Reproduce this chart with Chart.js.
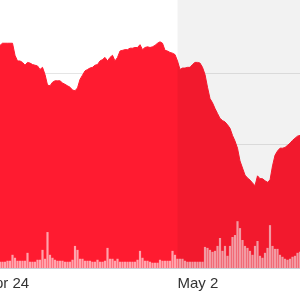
<!DOCTYPE html>
<html>
<head>
<meta charset="utf-8">
<script src="https://cdn.jsdelivr.net/npm/chart.js@4/dist/chart.umd.min.js"></script>
<style>
  html, body { margin: 0; padding: 0; background: #fff; }
  #frame { position: relative; width: 300px; height: 300px; overflow: hidden; }
  #wrap { position: absolute; left: -20px; top: 0; width: 320px; height: 300px; }
</style>
</head>
<body>
<div id="frame"><div id="wrap"><canvas id="chart" width="320" height="300"></canvas></div></div>
<script>
// Price (close) per period
const prices = [
    123.8, 123.7, 123.8, 123.7, 123.8, 123.8, 124.0, 123.8, 124.0, 124.3,
    124.3, 124.3, 124.3, 124.3, 122.6, 121.8, 121.8, 121.6, 121.2, 121.6,
    121.5, 121.3, 121.2, 121.1, 120.6, 120.9, 119.9, 118.4, 118.3, 118.8,
    119.0, 119.0, 119.0, 118.7, 118.5, 118.3, 118.1, 117.7, 117.6, 118.0,
    119.2, 119.8, 120.4, 120.6, 120.8, 120.9, 121.2, 121.3, 121.8, 122.0,
    122.3, 121.8, 122.3, 122.6, 121.8, 122.3, 123.2, 123.3, 123.4, 123.4,
    123.6, 123.6, 123.7, 123.7, 124.1, 123.4, 123.7, 123.8, 123.7, 123.8,
    124.0, 124.3, 124.5, 124.3, 123.3, 123.2, 123.0, 122.9, 122.7, 121.8,
    120.6, 120.8, 120.8, 120.9, 120.9, 121.3, 121.6, 121.6, 121.5, 120.9,
    119.9, 118.1, 116.5, 115.9, 115.1, 114.4, 113.7, 113.4, 113.2, 112.8,
    112.3, 111.3, 110.5, 109.5, 107.7, 106.7, 105.7, 105.3, 105.0, 104.6,
    104.2, 105.6, 105.2, 105.2, 104.9, 104.7, 105.0, 107.0, 108.5, 109.1,
    109.5, 109.5, 109.6, 109.9, 110.2, 110.6, 110.9, 111.2, 111.3
];

// Volume per period
const volumes = [
    6, 7, 6, 6, 7, 6, 8, 6, 6, 6,
    6, 7, 7, 13, 10, 7, 7, 7, 7, 15,
    6, 6, 6, 8, 8, 18, 9, 36, 13, 10,
    8, 7, 7, 7, 6, 6, 6, 8, 22, 18,
    9, 9, 7, 7, 7, 6, 6, 8, 6, 6,
    7, 20, 9, 9, 7, 9, 6, 6, 6, 6,
    6, 6, 6, 8, 17, 10, 7, 7, 6, 5,
    5, 5, 8, 7, 7, 7, 7, 17, 13, 9,
    9, 9, 7, 6, 6, 6, 6, 6, 6, 6,
    21, 20, 18, 16, 17, 22, 30, 17, 22, 12,
    22, 31, 33, 47, 40, 28, 22, 20, 17, 13,
    22, 27, 12, 10, 15, 20, 43, 22, 19, 19,
    13, 11, 9, 8, 9, 11, 12, 15, 16
];

// Date ticks (index into the series)
const tickLabels = ['Apr 24', 'May 2'];
const tickIndex = [2, 79];
const shadeFrom = 79;

const labels = prices.map((_, i) => i);

const RED = '#ff1b30';

const shadePlugin = {
    id: 'shade',
    afterDatasetsDraw(chart) {
        const { ctx, chartArea, scales } = chart;
        const x0 = scales.x.getPixelForValue(shadeFrom);
        ctx.save();
        ctx.fillStyle = 'rgba(0,0,0,0.05)';
        ctx.fillRect(x0, chartArea.top, chartArea.right - x0, chartArea.bottom - chartArea.top);
        ctx.restore();
    }
};

new Chart(document.getElementById('chart'), {
    type: 'line',
    data: {
        labels: labels,
        datasets: [
            {
                type: 'bar',
                data: volumes,
                yAxisID: 'yv',
                backgroundColor: 'rgba(255,255,255,0.6)',
                barThickness: 1.5,
                order: 0
            },
            {
                data: prices,
                yAxisID: 'y',
                borderColor: RED,
                backgroundColor: RED,
                borderWidth: 1,
                fill: 'start',
                pointRadius: 0,
                tension: 0,
                order: 1
            }
        ]
    },
    options: {
        responsive: false,
        animation: false,
        layout: { padding: 0 },
        plugins: { legend: { display: false }, tooltip: { enabled: false } },
        scales: {
            x: {
                offset: false,
                z: 1,
                grid: { display: false, drawTicks: false },
                border: { display: true, color: '#c9ced6', width: 2 },
                ticks: {
                    autoSkip: false,
                    maxRotation: 0,
                    align: 'start',
                    padding: 7,
                    color: '#333',
                    font: { family: 'Liberation Sans, Arial, sans-serif', size: 15 },
                    callback: (v, i) => {
                        const k = tickIndex.indexOf(i);
                        return k >= 0 ? tickLabels[k] : '';
                    }
                },
                afterFit: scale => {
                    scale.paddingLeft = 0;
                    scale.paddingRight = 0;
                }
            },
            y: {
                min: 92.6,
                max: 130.4,
                z: 1,
                ticks: { display: false, stepSize: 10 },
                border: { display: false },
                grid: {
                    drawTicks: false,
                    color: c => (c.tick && Math.abs(c.tick.value % 10) < 0.001) ? 'rgba(0,0,0,0.1)' : 'transparent'
                }
            },
            yv: {
                display: false,
                min: 0,
                max: 271
            }
        }
    },
    plugins: [shadePlugin]
});
</script>
</body>
</html>
